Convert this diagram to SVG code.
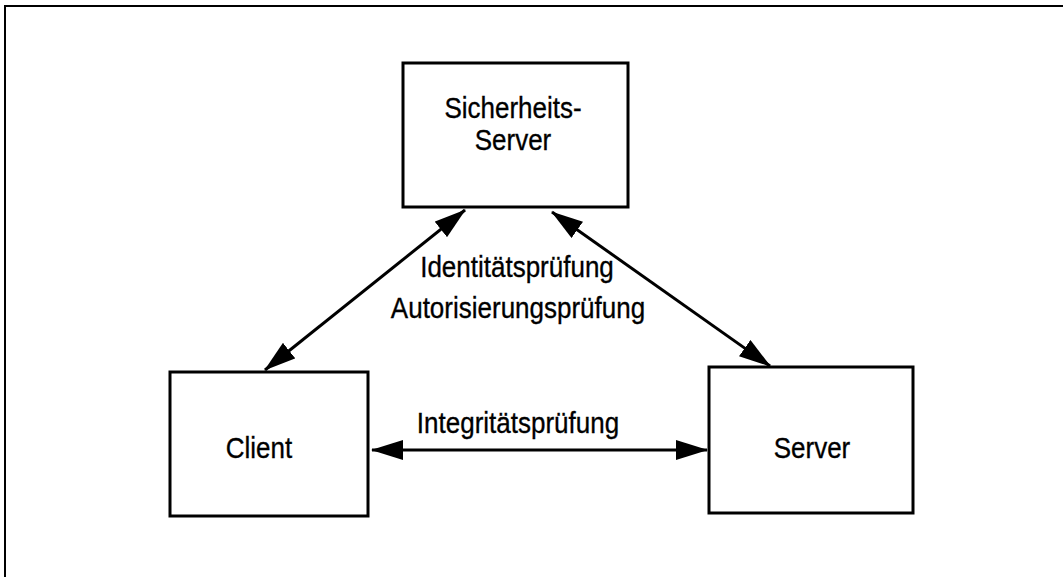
<svg xmlns="http://www.w3.org/2000/svg" width="1063" height="577" viewBox="0 0 1063 577">
  <style>
    .box { fill: #fff; stroke: #000; stroke-width: 3; }
    .frame { fill: none; stroke: #000; stroke-width: 2; }
    .link { fill: none; stroke: #000; stroke-width: 3; }
    .label { font-family: "Liberation Sans", Arial, sans-serif; font-size: 26px; fill: #000; text-anchor: middle; stroke: #000; stroke-width: 0.3; }
  </style>
  <defs>
    <marker id="head" viewBox="0 0 32 20" refX="31" refY="10" markerWidth="32" markerHeight="20" markerUnits="userSpaceOnUse" orient="auto-start-reverse">
      <path d="M0,0 L32,10 L0,20 Z" fill="#000"/>
    </marker>
  </defs>

  <!-- page frame (top and left edges) -->
  <path class="frame" d="M5,577 L5,6 L1063,6"/>

  <g id="sicherheits-server">
    <rect class="box" x="403" y="63" width="225" height="144"/>
    <text class="label" transform="translate(513,118) scale(1,1.12)">Sicherheits-</text>
    <text class="label" transform="translate(513,150) scale(1,1.12)">Server</text>
  </g>

  <g id="client">
    <rect class="box" x="170" y="372" width="198" height="144"/>
    <text class="label" transform="translate(259,458) scale(1,1.12)">Client</text>
  </g>

  <g id="server">
    <rect class="box" x="709" y="367" width="204" height="146"/>
    <text class="label" transform="translate(812,458) scale(1,1.12)">Server</text>
  </g>

  <g id="connectors">
    <line class="link" x1="465" y1="210" x2="265" y2="370" marker-start="url(#head)" marker-end="url(#head)"/>
    <line class="link" x1="552" y1="212" x2="770" y2="366" marker-start="url(#head)" marker-end="url(#head)"/>
    <line class="link" x1="372" y1="450" x2="707" y2="450" marker-start="url(#head)" marker-end="url(#head)"/>
    <text class="label" transform="translate(517,277) scale(1,1.12)">Identitätsprüfung</text>
    <text class="label" transform="translate(518,318) scale(1,1.12)">Autorisierungsprüfung</text>
    <text class="label" transform="translate(518,433) scale(1,1.12)">Integritätsprüfung</text>
  </g>
</svg>
